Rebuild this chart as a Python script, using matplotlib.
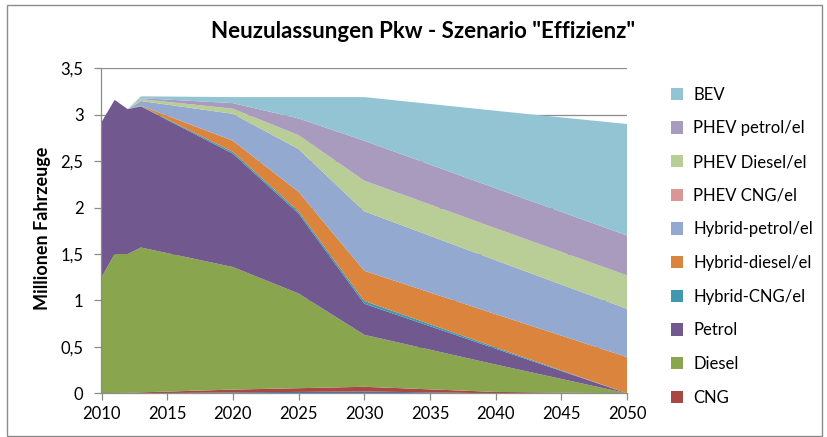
import matplotlib
matplotlib.use("Agg")
import matplotlib.pyplot as plt
from matplotlib.patches import Rectangle, Patch
from matplotlib.ticker import FuncFormatter, MultipleLocator

plt.rcParams['font.family'] = ['Lato', 'DejaVu Sans']

years = [2010, 2011, 2012, 2013, 2020, 2025, 2030, 2040, 2050]

other_bottom   = [0.0, 0.0, 0.0, 0.0, 0.01, 0.015, 0.02, 0.0, 0.0]
cng            = [0.0, 0.003, 0.005, 0.01, 0.03, 0.04, 0.05, 0.015, 0.0]
diesel         = [1.25, 1.497, 1.495, 1.56, 1.32, 1.02, 0.56, 0.295, 0.0]
petrol         = [1.67, 1.66, 1.56, 1.52, 1.22, 0.86, 0.335, 0.17, 0.0]
hybrid_cng     = [0.0, 0.0, 0.0, 0.003, 0.02, 0.025, 0.03, 0.015, 0.0]
hybrid_diesel  = [0.0, 0.0, 0.0, 0.005, 0.12, 0.21, 0.325, 0.3575, 0.39]
hybrid_petrol  = [0.0, 0.0, 0.0, 0.05, 0.29, 0.46, 0.64, 0.58, 0.52]
phev_cng       = [0.0, 0.0, 0.0, 0.0, 0.0, 0.0, 0.0, 0.0, 0.0]
phev_diesel    = [0.0, 0.0, 0.0, 0.02, 0.055, 0.15, 0.33, 0.345, 0.36]
phev_petrol    = [0.0, 0.0, 0.0, 0.01, 0.06, 0.18, 0.43, 0.43, 0.43]
bev            = [0.0, 0.0, 0.0, 0.02, 0.065, 0.23, 0.47, 0.835, 1.20]

series = [other_bottom, cng, diesel, petrol, hybrid_cng, hybrid_diesel,
          hybrid_petrol, phev_cng, phev_diesel, phev_petrol, bev]
labels = ["_other", "CNG", "Diesel", "Petrol", "Hybrid-CNG/el", "Hybrid-diesel/el",
          "Hybrid-petrol/el", "PHEV CNG/el", "PHEV Diesel/el", "PHEV petrol/el", "BEV"]
colors = ["#4572A7", "#AA4643", "#89A54E", "#71588F", "#4198AF", "#DB843D",
          "#93A9CF", "#D99694", "#B9CD96", "#A99BBD", "#93C4D4"]

title = 'Neuzulassungen Pkw - Szenario "Effizienz"'
ylabel = "Millionen Fahrzeuge"
xticks = [2010, 2015, 2020, 2025, 2030, 2035, 2040, 2045, 2050]

W, H = 828, 437
fig = plt.figure(figsize=(W / 100, H / 100), dpi=100)
ax = fig.add_axes([101.5 / W, 1 - 393.3 / H, (627 - 101.5) / W, (393.3 - 68.3) / H])

ax.stackplot(years, *series, colors=colors, linewidth=0, zorder=2)

ax.set_xlim(2010, 2050)
ax.set_ylim(0, 3.5)
ax.yaxis.set_major_locator(MultipleLocator(0.5))
ax.set_xticks(xticks)
ax.yaxis.set_major_formatter(FuncFormatter(lambda v, p: ("%g" % v).replace(".", ",")))
ax.grid(axis="y", color="#8C8C8C", linewidth=0.9, zorder=0)
ax.set_axisbelow(True)
for s in ["top", "right"]:
    ax.spines[s].set_visible(False)
for s in ["left", "bottom"]:
    ax.spines[s].set_color("#8C8C8C")
    ax.spines[s].set_linewidth(0.9)
    ax.spines[s].set_zorder(3)
ax.tick_params(axis="both", which="major", direction="out", length=5, width=0.9,
               color="#8C8C8C", labelsize=12, labelcolor="#000000")
ax.tick_params(axis="y", pad=8)
ax.tick_params(axis="x", pad=4)

fig.text(423 / W, 1 - 32 / H, title, ha="center", va="center", fontsize=16, fontweight="bold")
fig.text(43 / W, 1 - 228 / H, ylabel, ha="center", va="center", rotation=90,
         fontsize=13, fontweight="bold")

handles = [Patch(facecolor=c, edgecolor="none", label=l)
           for c, l in zip(colors[::-1], labels[::-1]) if not l.startswith("_")]
fig.legend(handles=handles, loc="upper left", bbox_to_anchor=(664 / W, 1 - 80 / H),
           frameon=False, fontsize=12, handlelength=0.75, handleheight=0.75,
           handletextpad=0.6, labelspacing=1.06, borderaxespad=0)

fig.patches.append(Rectangle((7 / W, 1 / H), (W - 13) / W, (H - 6) / H,
                             transform=fig.transFigure, fill=False,
                             edgecolor="#8C8C8C", linewidth=1.0))

fig.savefig("out.png", dpi=100)
